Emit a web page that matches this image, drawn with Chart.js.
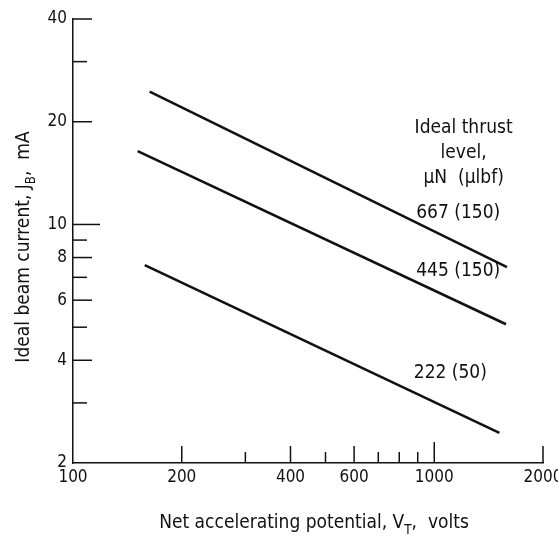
<!DOCTYPE html>
<html>
<head>
<meta charset="utf-8">
<script src="https://cdn.jsdelivr.net/npm/chart.js@4"></script>
<style>
  html, body { margin: 0; padding: 0; background: #fff; }
  #wrap { width: 558px; height: 542px; }
</style>
</head>
<body>
<div id="wrap"><canvas id="beamChart" width="558" height="542"></canvas></div>
<script>
// values (log-log plot)
const voltage667 = [163, 1590];
const current667 = [24.5, 7.5];
const voltage445 = [151, 1580];
const current445 = [16.4, 5.1];
const voltage222 = [158, 1515];
const current222 = [7.6, 2.45];

const seriesNames = ['667 (150)', '445 (150)', '222 (50)'];
// label anchors in data units (volts, mA)
const labelVolts = [1165, 1165, 1108];
const labelAmps = [10.8, 7.3, 3.67];
const headingLines = ['Ideal thrust', 'level,', '\u03bcN  (\u03bclbf)'];
const headingAt = [1206, 19.2];

const xTickLabels = [100, 200, 400, 600, 1000, 2000];
const xAllTicks = [200, 300, 400, 500, 600, 700, 800, 900, 1000, 2000];
const yTickLabels = [2, 4, 6, 8, 10, 20, 40];
const yAllTicks = [3, 4, 5, 6, 7, 8, 9, 10, 20, 30, 40];

const FONT = "'Liberation Sans Narrow', 'DejaVu Sans Condensed', sans-serif";
const INK = '#111';

function pts(xs, ys) {
  return xs.map((x, i) => ({ x: x, y: ys[i] }));
}

// draws text with a subscript piece, centered at (0,0) in current transform
function drawSubText(ctx, parts, size) {
  let w = 0;
  parts.forEach(p => {
    ctx.font = (p.sub ? size * 0.7 : size) + 'px ' + FONT;
    p.w = ctx.measureText(p.t).width;
    w += p.w;
  });
  let x = -w / 2;
  parts.forEach(p => {
    ctx.font = (p.sub ? size * 0.7 : size) + 'px ' + FONT;
    ctx.fillText(p.t, x, p.sub ? size * 0.3 : 0);
    x += p.w;
  });
}

const extras = {
  id: 'extras',
  afterDraw(chart) {
    const ctx = chart.ctx;
    const xs = chart.scales.x, ys = chart.scales.y;
    const area = chart.chartArea;
    ctx.save();
    ctx.strokeStyle = INK;
    ctx.lineWidth = 1.5;
    // inward ticks on x
    xAllTicks.forEach(v => {
      const px = xs.getPixelForValue(v);
      let len = xTickLabels.includes(v) ? 17 : 11;
      if (v === 1000) len = 21;
      ctx.beginPath();
      ctx.moveTo(px, area.bottom);
      ctx.lineTo(px, area.bottom - len);
      ctx.stroke();
    });
    // inward ticks on y
    yAllTicks.forEach(v => {
      const py = ys.getPixelForValue(v);
      let len = yTickLabels.includes(v) ? 19 : 14;
      if (v === 10) len = 27;
      ctx.beginPath();
      ctx.moveTo(area.left, py);
      ctx.lineTo(area.left + len, py);
      ctx.stroke();
    });

    ctx.fillStyle = INK;
    ctx.textAlign = 'left';
    ctx.textBaseline = 'alphabetic';
    // x title
    ctx.save();
    ctx.translate(314, 528);
    drawSubText(ctx, [
      { t: 'Net accelerating potential, V' }, { t: 'T', sub: true }, { t: ',  volts' }
    ], 19);
    ctx.restore();
    // y title
    ctx.save();
    ctx.translate(29, 247);
    ctx.rotate(-Math.PI / 2);
    drawSubText(ctx, [
      { t: 'Ideal beam current, J' }, { t: 'B', sub: true }, { t: ',  mA' }
    ], 19);
    ctx.restore();

    // heading and line labels
    ctx.textAlign = 'center';
    ctx.textBaseline = 'middle';
    ctx.font = '19px ' + FONT;
    const hx = xs.getPixelForValue(headingAt[0]);
    const hy = ys.getPixelForValue(headingAt[1]);
    headingLines.forEach((s, i) => ctx.fillText(s, hx, hy + i * 25));
    seriesNames.forEach((s, i) => {
      ctx.fillText(s, xs.getPixelForValue(labelVolts[i]), ys.getPixelForValue(labelAmps[i]));
    });
    ctx.restore();
  }
};

const lineStyle = {
  borderColor: INK,
  borderWidth: 2.6,
  pointRadius: 0,
  fill: false,
  tension: 0
};

new Chart(document.getElementById('beamChart'), {
  type: 'line',
  data: {
    datasets: [
      Object.assign({ label: seriesNames[0], data: pts(voltage667, current667) }, lineStyle),
      Object.assign({ label: seriesNames[1], data: pts(voltage445, current445) }, lineStyle),
      Object.assign({ label: seriesNames[2], data: pts(voltage222, current222) }, lineStyle)
    ]
  },
  options: {
    responsive: false,
    animation: false,
    layout: { padding: { top: 19, right: 15, left: 0, bottom: 0 } },
    plugins: { legend: { display: false }, tooltip: { enabled: false } },
    scales: {
      x: {
        type: 'logarithmic',
        min: 100,
        max: 2000,
        afterBuildTicks(scale) { scale.ticks = xTickLabels.map(v => ({ value: v })); },
        afterFit(scale) { scale.height = 79; scale.paddingRight = 0; scale.paddingLeft = 0; },
        grid: { display: false, drawTicks: false },
        border: { display: true, color: INK, width: 1.5 },
        ticks: {
          color: INK,
          padding: 4,
          maxRotation: 0,
          font: { family: FONT, size: 17 },
          callback: v => String(v)
        }
      },
      y: {
        type: 'logarithmic',
        min: 2,
        max: 40,
        afterBuildTicks(scale) { scale.ticks = yTickLabels.map(v => ({ value: v })); },
        afterFit(scale) { scale.width = 73; scale.paddingTop = 0; scale.paddingBottom = 0; },
        grid: { display: false, drawTicks: false },
        border: { display: true, color: INK, width: 1.5 },
        ticks: {
          color: INK,
          padding: 6,
          font: { family: FONT, size: 17 },
          callback: v => String(v)
        }
      }
    }
  },
  plugins: [extras]
});
</script>
</body>
</html>
